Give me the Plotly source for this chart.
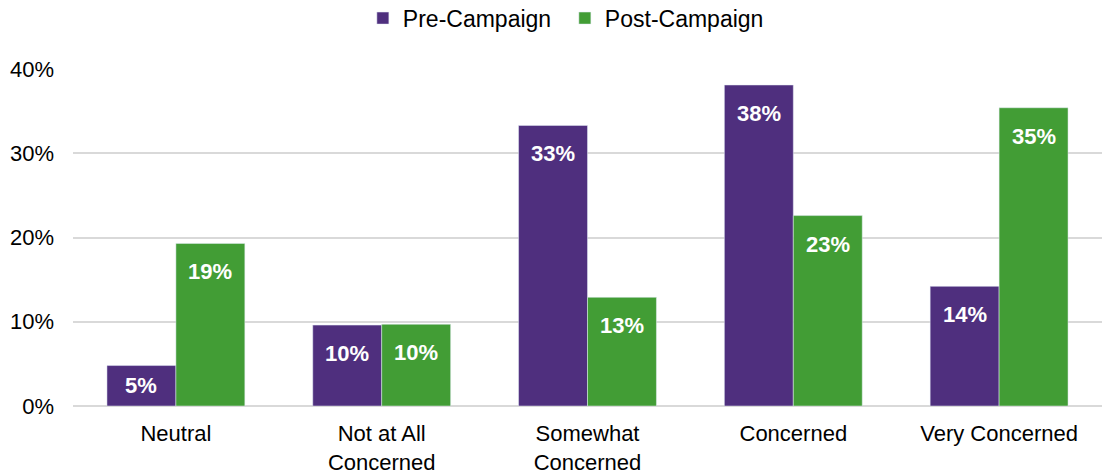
import plotly.graph_objects as go

categories = ["Neutral", "Not at All<br>Concerned", "Somewhat<br>Concerned", "Concerned", "Very Concerned"]
pre_campaign = [4.8, 9.6, 33.3, 38.1, 14.2]
post_campaign = [19.3, 9.7, 12.9, 22.6, 35.4]
y_ticks = [0, 10, 20, 30, 40]
y_tick_labels = [f"{t}%" for t in y_ticks]

PURPLE = "#4F2F7E"
GREEN = "#429D35"
FONT = "Liberation Sans, Arial, sans-serif"
BARGAP = 0.33

x_idx = list(range(len(categories)))
half = (1 - BARGAP) / 4  # centre offset of each bar within its group

fig = go.Figure()
fig.add_trace(go.Bar(name="Pre-Campaign", x=x_idx, y=pre_campaign, marker_color=PURPLE))
fig.add_trace(go.Bar(name="Post-Campaign", x=x_idx, y=post_campaign, marker_color=GREEN))

# value labels sitting just inside the top of each bar
for series, off in ((pre_campaign, -half), (post_campaign, half)):
    for i, v in enumerate(series):
        small = v < 8
        fig.add_annotation(
            x=i + off, y=v / 2 if small else v,
            text=f"{v:.0f}%", showarrow=False,
            yanchor="middle" if small else "top",
            yshift=0 if small else -14,
            font=dict(family=FONT, size=22, color="white", weight="bold"),
        )

fig.update_layout(
    width=1102, height=474,
    margin=dict(l=73, r=0, t=69, b=68, autoexpand=False),
    paper_bgcolor="white", plot_bgcolor="white",
    barmode="group", bargap=BARGAP, bargroupgap=0,
    font=dict(family=FONT, size=22, color="black"),
    legend=dict(orientation="h", x=0.478, xanchor="center", y=1.151, yanchor="middle",
                font=dict(size=23), itemwidth=30, entrywidth=157, traceorder="normal"),
    xaxis=dict(tickmode="array", tickvals=x_idx, ticktext=categories,
               range=[-0.5, len(categories) - 0.5], showgrid=False, zeroline=False,
               ticklabelstandoff=12),
    yaxis=dict(range=[0, 40], tickmode="array", tickvals=y_ticks, ticktext=y_tick_labels,
               showgrid=True, gridcolor="#D9D9D9", gridwidth=1.5,
               zeroline=True, zerolinecolor="#D9D9D9", zerolinewidth=1.5,
               ticklabelstandoff=18),
)

fig.write_html("out.html")
